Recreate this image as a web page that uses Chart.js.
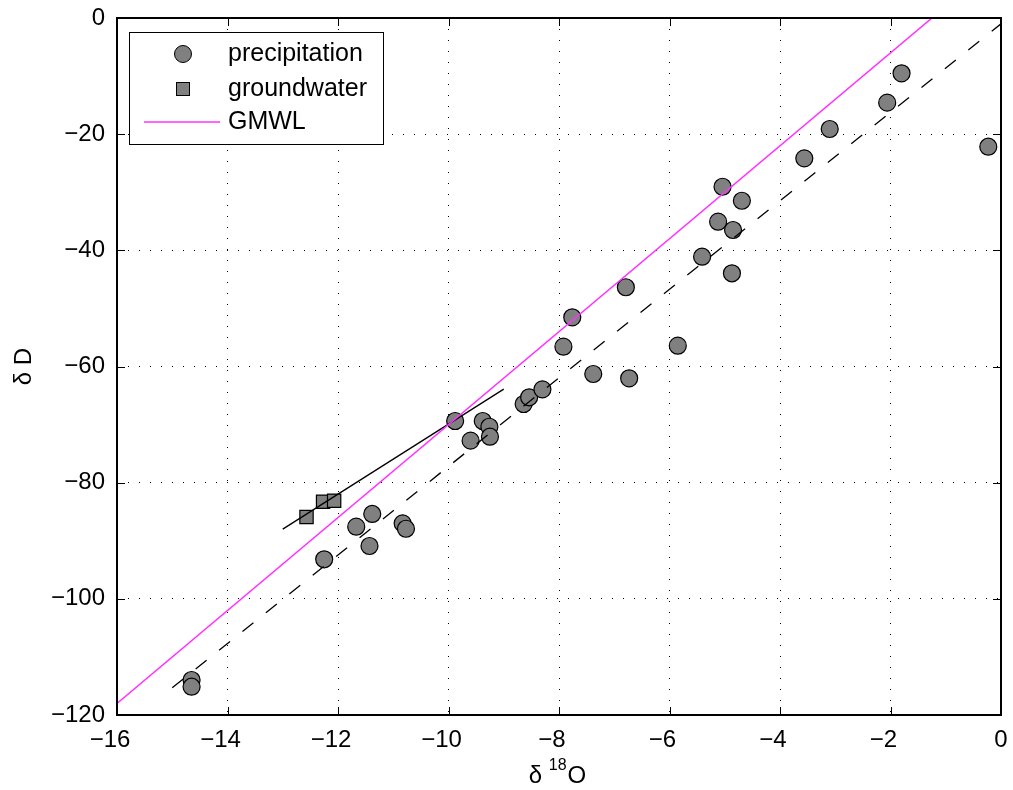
<!DOCTYPE html>
<html>
<head>
<meta charset="utf-8">
<script src="https://cdn.jsdelivr.net/npm/chart.js@4/dist/chart.umd.min.js"></script>
<style>
  html, body { margin: 0; padding: 0; background: #fff; }
  canvas { display: block; }
</style>
</head>
<body>
<canvas id="c" width="1013" height="790"></canvas>
<script>
// Isotope samples: δ18O (x) and δD (y), per mil
const precipX = [-14.65, -14.65, -12.25, -11.67, -11.38, -11.43, -10.83, -10.77, -9.88, -9.60,
                 -9.38, -9.26, -9.25, -8.64, -8.54, -8.30, -7.92, -7.76, -7.38, -6.79,
                 -6.73, -5.85, -5.41, -5.12, -5.04, -4.85, -4.87, -4.69, -3.56, -3.10,
                 -2.06, -1.80, -0.23];
const precipY = [-113.97, -115.13, -93.19, -87.58, -85.39, -90.90, -87.00, -87.93, -69.38, -72.77,
                 -69.38, -70.37, -72.09, -66.46, -65.30, -63.93, -56.59, -51.53, -61.29, -46.36,
                 -62.03, -56.42, -41.10, -35.07, -29.05, -36.50, -43.95, -31.46, -24.16, -19.11,
                 -14.58, -9.52, -22.16];
const gwX = [-12.57, -12.27, -12.07];
const gwY = [-85.91, -83.28, -83.10];

// Global meteoric water line: δD = 8·δ18O + 10
const gmwlX = [-16, 0];
const gmwlY = [-118, 10];
// Local meteoric water line (dashed)
const lmwlX = [-15, 0];
const lmwlY = [-115.3, -1.0];
// Groundwater trend line
const gwLineX = [-13, -9];
const gwLineY = [-88.0, -63.9];

const xTicks = [-16, -14, -12, -10, -8, -6, -4, -2, 0];
const yTicks = [-120, -100, -80, -60, -40, -20, 0];

const seriesLabels = ['precipitation', 'groundwater', 'GMWL'];

const toPts = (xs, ys) => xs.map((x, i) => ({ x: x, y: ys[i] }));

const FONT = '"Liberation Sans", Arial, Helvetica, sans-serif';
const MAGENTA = '#ff33ff';
const GREY = '#808080';

const frameAndLabels = {
  id: 'frameAndLabels',
  afterDraw(chart) {
    const ctx = chart.ctx;
    const a = chart.chartArea;
    const xs = chart.scales.x, ys = chart.scales.y;
    ctx.save();

    // inward ticks on all four sides
    ctx.strokeStyle = '#000';
    ctx.lineWidth = 1;
    const tl = 8;
    ctx.beginPath();
    xTicks.forEach(v => {
      const px = Math.round(xs.getPixelForValue(v)) + 0.5;
      ctx.moveTo(px, a.bottom); ctx.lineTo(px, a.bottom - tl);
      ctx.moveTo(px, a.top); ctx.lineTo(px, a.top + tl);
    });
    yTicks.forEach(v => {
      const py = Math.round(ys.getPixelForValue(v)) + 0.5;
      ctx.moveTo(a.left, py); ctx.lineTo(a.left + tl, py);
      ctx.moveTo(a.right, py); ctx.lineTo(a.right - tl, py);
    });
    ctx.stroke();

    // axes box
    ctx.lineWidth = 2;
    ctx.strokeRect(a.left, a.top, a.right - a.left, a.bottom - a.top);

    // tick labels
    ctx.fillStyle = '#000';
    ctx.font = '24px ' + FONT;
    ctx.textBaseline = 'middle';
    ctx.textAlign = 'right';
    yTicks.forEach(v => {
      const py = ys.getPixelForValue(v);
      ctx.fillText(String(v).replace('-', '\u2212'), a.left - 12, py);
    });
    xTicks.forEach(v => {
      const px = xs.getPixelForValue(v);
      const digits = String(Math.abs(v));
      const w = ctx.measureText(digits).width;
      ctx.fillText(String(v).replace('-', '\u2212'), px + w / 2, a.bottom + 25);
    });

    // x axis title: δ 18O with superscript
    const big = '24px ' + FONT, small = '16px ' + FONT;
    ctx.textBaseline = 'alphabetic';
    ctx.textAlign = 'left';
    ctx.font = big;
    const w1 = ctx.measureText('\u03b4 ').width;
    const w3 = ctx.measureText('O').width;
    ctx.font = small;
    const w2 = ctx.measureText('18').width;
    const cx = (xs.getPixelForValue(-8) - 2);
    let x0 = cx - (w1 + w2 + w3) / 2;
    const base = 783;
    ctx.font = big;
    ctx.fillText('\u03b4 ', x0, base);
    ctx.font = small;
    ctx.fillText('18', x0 + w1, base - 13);
    ctx.font = big;
    ctx.fillText('O', x0 + w1 + w2 + 1, base);

    // y axis title
    ctx.save();
    ctx.translate(31, (a.top + a.bottom) / 2);
    ctx.rotate(-Math.PI / 2);
    ctx.textAlign = 'center';
    ctx.font = big;
    ctx.fillText('\u03b4 D', 0, 0);
    ctx.restore();

    // legend
    const lx = 129.5, ly = 32.5, lw = 254, lh = 112;
    ctx.fillStyle = '#fff';
    ctx.fillRect(lx, ly, lw, lh);
    ctx.strokeStyle = '#000';
    ctx.lineWidth = 1;
    ctx.strokeRect(lx, ly, lw, lh);

    const mx = 183;
    const rows = [54, 89, 122];
    ctx.fillStyle = GREY;
    ctx.beginPath();
    ctx.arc(mx, rows[0], 8.5, 0, Math.PI * 2);
    ctx.fill(); ctx.stroke();
    ctx.fillRect(mx - 6.5, rows[1] - 6.5, 13, 13);
    ctx.strokeRect(mx - 6.5, rows[1] - 6.5, 13, 13);
    ctx.strokeStyle = MAGENTA;
    ctx.lineWidth = 1.5;
    ctx.beginPath();
    ctx.moveTo(144, rows[2]); ctx.lineTo(220, rows[2]);
    ctx.stroke();

    ctx.fillStyle = '#000';
    ctx.font = '25px ' + FONT;
    ctx.textBaseline = 'middle';
    ctx.textAlign = 'left';
    seriesLabels.forEach((t, i) => ctx.fillText(t, 228, rows[i]));

    ctx.restore();
  }
};

new Chart(document.getElementById('c'), {
  type: 'scatter',
  data: {
    datasets: [
      {
        label: 'GMWL', data: toPts(gmwlX, gmwlY), showLine: true,
        borderColor: MAGENTA, borderWidth: 1.5, pointRadius: 0, order: 0
      },
      {
        label: 'LMWL', data: toPts(lmwlX, lmwlY), showLine: true,
        borderColor: '#000', borderWidth: 1.3, borderDash: [14, 16], pointRadius: 0, order: 0
      },
      {
        label: 'groundwater trend', data: toPts(gwLineX, gwLineY), showLine: true,
        borderColor: '#000', borderWidth: 1.3, pointRadius: 0, order: 0
      },
      {
        label: seriesLabels[0], data: toPts(precipX, precipY),
        pointStyle: 'circle', pointRadius: 8.5, pointBackgroundColor: GREY,
        pointBorderColor: '#000', pointBorderWidth: 1.2, order: 1
      },
      {
        label: seriesLabels[1], data: toPts(gwX, gwY),
        pointStyle: 'rect', pointRadius: 9.4, pointBackgroundColor: GREY,
        pointBorderColor: '#000', pointBorderWidth: 1.2, order: 1
      }
    ]
  },
  options: {
    responsive: false,
    animation: false,
    devicePixelRatio: 1,
    layout: { padding: { top: 18, right: 12, left: 0, bottom: 0 } },
    plugins: { legend: { display: false }, tooltip: { enabled: false } },
    scales: {
      x: {
        type: 'linear', min: -16, max: 0,
        afterFit: s => { s.height = 75; },
        afterBuildTicks: s => { s.ticks = xTicks.map(v => ({ value: v })); },
        ticks: { display: false },
        grid: { color: '#000', lineWidth: 1, drawTicks: false },
        border: { display: false, dash: [1, 10] }
      },
      y: {
        type: 'linear', min: -120, max: 0,
        afterFit: s => { s.width = 117; },
        afterBuildTicks: s => { s.ticks = yTicks.map(v => ({ value: v })); },
        ticks: { display: false },
        grid: { color: '#000', lineWidth: 1, drawTicks: false },
        border: { display: false, dash: [1, 10] }
      }
    }
  },
  plugins: [frameAndLabels]
});
</script>
</body>
</html>
